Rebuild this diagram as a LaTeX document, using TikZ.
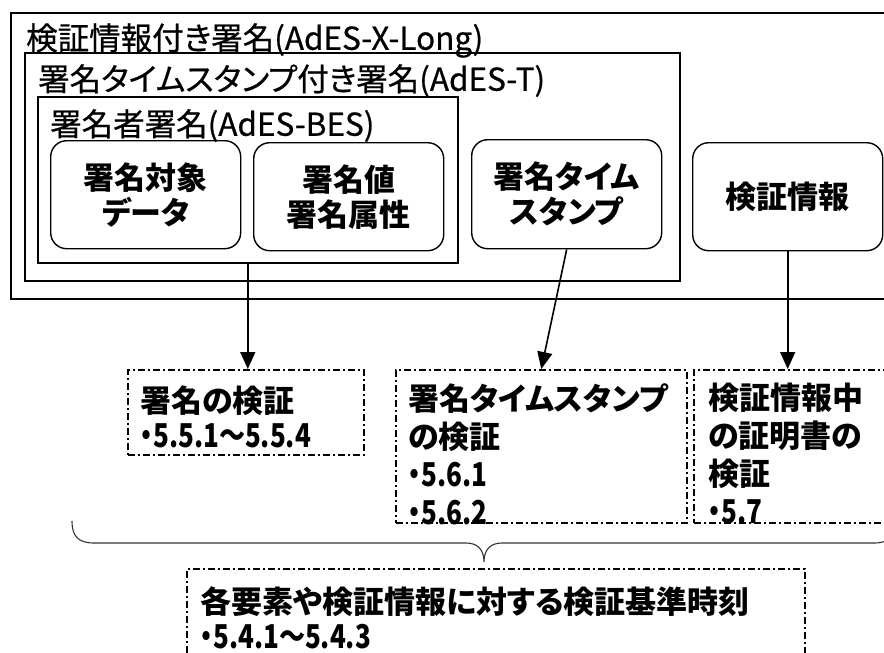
\documentclass[tikz,border=0pt]{standalone}
\usepackage{fontspec}
\setmainfont{Noto Sans CJK JP}[RawFeature={+palt}]
\newfontfamily\titlefont{Noto Sans CJK JP}[RawFeature={+palt},FakeBold=0.6]
\newcommand{\numline}[1]{\scalebox{0.84}[1.06]{#1}}
\usetikzlibrary{arrows.meta}
\begin{document}
\begin{tikzpicture}[x=1pt,y=-1pt,
  frame/.style={draw, line width=1.6pt, anchor=north west, inner sep=0pt},
  rbox/.style={draw, line width=1.4pt, rounded corners=16pt, anchor=north west, inner sep=0pt, align=center, font=\bfseries\fontsize{31}{35}\selectfont},
  title/.style={anchor=north west, inner sep=0pt, font=\titlefont\fontsize{31.5}{35}\selectfont},
  vbox/.style={draw, line width=1.5pt, dash pattern=on 7pt off 3pt on 2pt off 3pt, anchor=north west, inner sep=0pt},
  vtext/.style={anchor=north west, inner sep=0pt, align=left, font=\bfseries\fontsize{31}{38}\selectfont},
  arr/.style={line width=1.6pt, -{Triangle[width=15pt,length=17pt]}},
  bracestyle/.style={line width=1.1pt, black!80}
]
\useasboundingbox (0,0) rectangle (884,653);
% frames
\node[frame, minimum width=890pt, minimum height=286pt] (xlong) at (10,12) {};
\node[frame, minimum width=655pt, minimum height=228pt] (adest) at (24,52) {};
\node[frame, minimum width=420pt, minimum height=166pt] (bes) at (37,96) {};
\node[title] (t1) at (26,23) {検証情報付き署名(AdES-X-Long)};
\node[title] (t2) at (38,64) {署名タイムスタンプ付き署名(AdES-T)};
\node[title] (t3) at (50,109) {署名者署名(AdES-BES)};
% rounded boxes
\node[rbox, minimum width=190pt, minimum height=108pt] (b1) at (50,140) {署名対象\\データ};
\node[rbox, minimum width=190pt, minimum height=108pt] (b2) at (253,142) {署名値\\署名属性};
\node[rbox, minimum width=190pt, minimum height=109pt] (b3) at (471,139) {署名タイム\\スタンプ};
\node[rbox, minimum width=190pt, minimum height=108pt] (b4) at (692,142) {検証情報};
% verification boxes
\node[vbox, minimum width=236pt, minimum height=85pt] (v1) at (127,369) {};
\node[vbox, minimum width=291pt, minimum height=153pt] (v2) at (395,369) {};
\node[vbox, minimum width=194pt, minimum height=153pt] (v3) at (693,369) {};
\node[vbox, minimum width=618pt, minimum height=112pt] (vb) at (186,568) {};
\node[vtext, font=\bfseries\fontsize{31}{35}\selectfont] (v1t) at (140,386) {署名の検証\\\numline{・5.5.1～5.5.4}};
\node[vtext] (v2t) at (408,383) {署名タイムスタンプ\\の検証\\\numline{・5.6.1}\\\numline{・5.6.2}};
\node[vtext] (v3t) at (708,383) {検証情報中\\の証明書の\\検証\\\numline{・5.7}};
\node[vtext, font=\bfseries\fontsize{31}{35}\selectfont] (vbt) at (200,586) {各要素や検証情報に対する検証基準時刻\\\numline{・5.4.1～5.4.3}};
% arrows
\draw[arr] (bes.south) -- (bes.south |- v1.north);
\draw[arr] (b3.south) -- (v2.north);
\draw[arr] (b4.south) -- (b4.south |- v3.north);
% brace
\coordinate (brL) at (72,521);
\coordinate (brR) at (896,521);
\coordinate (brT) at (484,562);
\draw[bracestyle] (brL) .. controls (72,536) and (78,543) .. (94,543) -- (466,543)
  .. controls (478,543) and (484,550) .. (brT)
  .. controls (484,550) and (490,543) .. (502,543) -- (874,543)
  .. controls (890,543) and (896,536) .. (brR);
\end{tikzpicture}
\end{document}
